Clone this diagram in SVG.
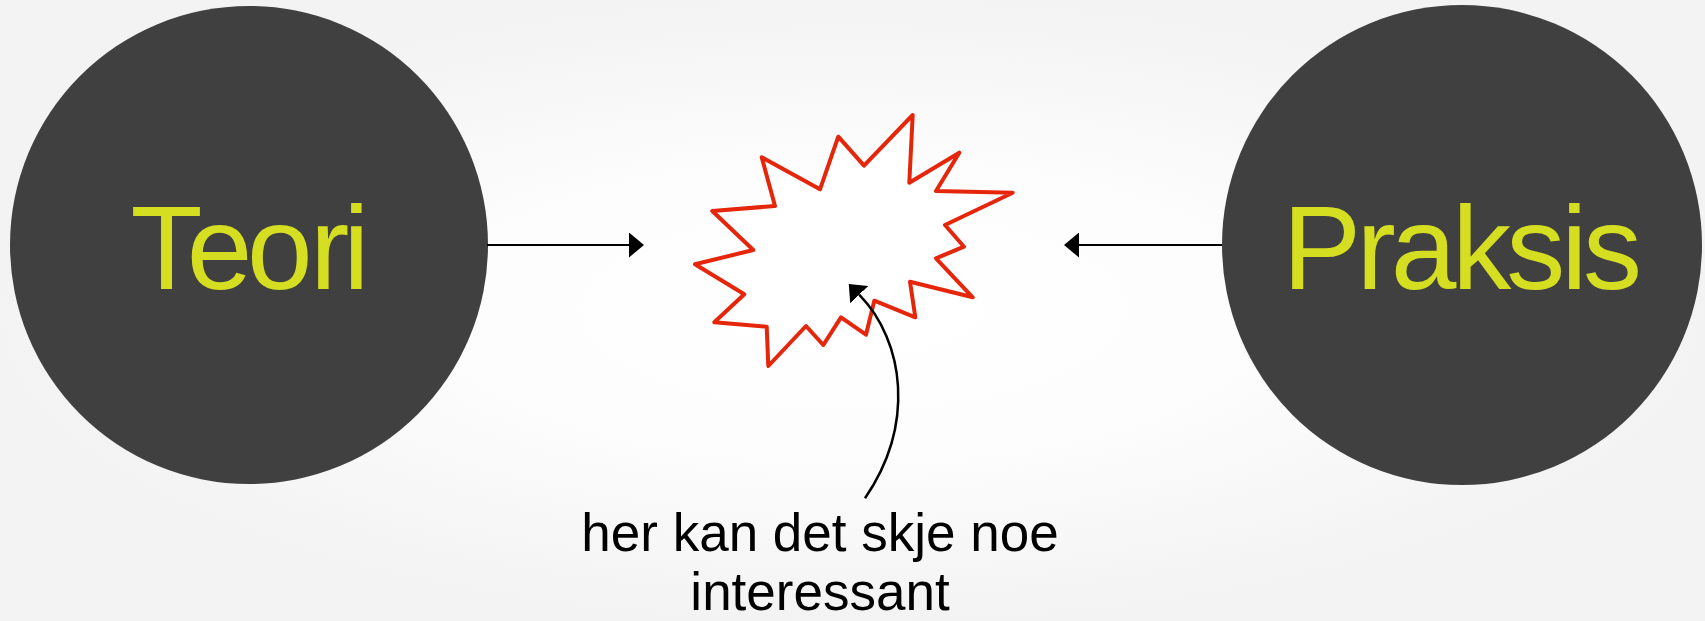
<svg xmlns="http://www.w3.org/2000/svg" width="1705" height="621" viewBox="0 0 1705 621">
  <defs>
    <radialGradient id="bg" cx="0.5" cy="0.5" r="0.5">
      <stop offset="0" stop-color="#ffffff"/>
      <stop offset="0.45" stop-color="#fdfdfd"/>
      <stop offset="1" stop-color="#f3f3f3"/>
    </radialGradient>
    <marker id="head" viewBox="0 0 15 25" refX="0" refY="12.5" markerWidth="15" markerHeight="25" markerUnits="userSpaceOnUse" orient="auto">
      <path d="M0 0 L15 12.5 L0 25 Z" fill="#000000"/>
    </marker>
  </defs>
  <style>
    .node { fill: #404040; }
    .big { font-family: "Liberation Sans", Arial, sans-serif; font-size: 118px; fill: #d5de20; }
    .label { font-family: "Liberation Sans", Arial, sans-serif; font-size: 53px; fill: #000000; text-anchor: middle; }
    .conn { fill: none; stroke: #000000; stroke-width: 2; }
    .curve { stroke-width: 2.5; }
    .burst { fill: #ffffff; stroke: #e5260b; stroke-width: 4; stroke-linejoin: round; }
  </style>
  <rect x="0" y="0" width="1705" height="621" fill="url(#bg)"/>

  <g id="teori">
    <circle class="node" cx="249" cy="245" r="239"/>
    <text class="big" x="130.5 186.7 247.1 309.9 343.2" y="289.3">Teori</text>
  </g>

  <g id="praksis">
    <circle class="node" cx="1462" cy="245" r="240"/>
    <text class="big" x="1282.6 1356.5 1390.7 1452.2 1506.3 1561.2 1583" y="289.3">Praksis</text>
  </g>

  <g id="burst">
    <polygon class="burst" points="912.7,115 909.3,182.7 959.3,152.7 936,191 1012.7,192.7 945,225 964,246.7 936,258.3 972.7,297.3 910,281.7 915.3,317.3 874.3,300.7 866,334.7 841,317.3 823.3,345 806,326 768.3,366 766.7,326.7 714.3,322.3 744.3,294.3 695,264.3 753.3,250 712.3,211 775,206 761.7,157.3 820,189.3 838.3,136.7 864,165.7"/>
  </g>

  <g id="label">
    <text class="label" x="820" y="551">her kan det skje noe</text>
    <text class="label" x="820" y="610">interessant</text>
  </g>

  <g id="connectors">
    <line class="conn" x1="487" y1="245" x2="629" y2="245" marker-end="url(#head)"/>
    <line class="conn" x1="1222" y1="245" x2="1079" y2="245" marker-end="url(#head)"/>
    <path class="conn curve" d="M865 498.3 C915 425 905 342 859.2 294.7" marker-end="url(#head)"/>
  </g>
</svg>
